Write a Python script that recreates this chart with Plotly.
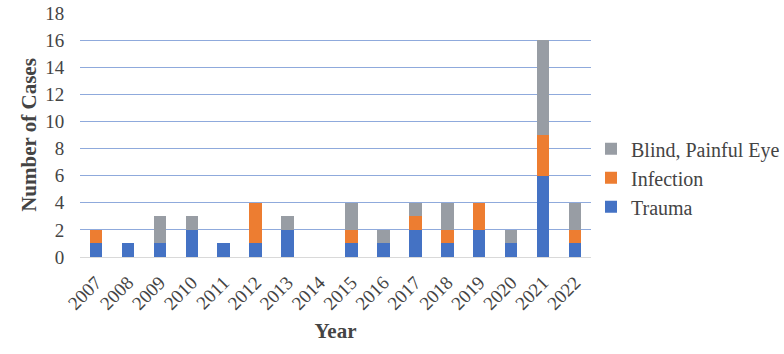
import plotly.graph_objects as go

years = [str(y) for y in range(2007, 2023)]
trauma = [1, 1, 1, 2, 1, 1, 2, 0, 1, 1, 2, 1, 2, 1, 6, 1]
infection = [1, 0, 0, 0, 0, 3, 0, 0, 1, 0, 1, 1, 2, 0, 3, 1]
blind = [0, 0, 2, 1, 0, 0, 1, 0, 2, 1, 1, 2, 0, 1, 7, 2]

FONT = "Liberation Serif"

fig = go.Figure()
fig.add_trace(go.Bar(x=years, y=trauma, name="Trauma", marker=dict(color="#4472C4", line=dict(width=0))))
fig.add_trace(go.Bar(x=years, y=infection, name="Infection", marker=dict(color="#ED7D31", line=dict(width=0))))
fig.add_trace(go.Bar(x=years, y=blind, name="Blind, Painful Eye", marker=dict(color="#989DA4", line=dict(width=0))))

fig.update_layout(
    template="none",
    barmode="stack",
    bargap=0.61,
    width=784, height=354,
    margin=dict(l=80, r=193, t=13, b=97, autoexpand=False),
    font=dict(family=FONT, size=18),
    legend=dict(
        traceorder="reversed",
        x=1.0, xanchor="left", y=0.325, yanchor="middle",
        font=dict(family=FONT, size=20),
    ),
    xaxis=dict(
        type="category",
        tickangle=-45,
        tickfont=dict(family=FONT, size=19),
        showgrid=False,
        showline=True, linecolor="#D9D9D9", linewidth=1,
        ticks="outside", ticklen=6, tickcolor="rgba(255,255,255,0)",
        title=dict(text="<b>Year</b>", font=dict(family=FONT, size=21), standoff=10),
    ),
    yaxis=dict(
        range=[0, 18],
        dtick=2,
        tickfont=dict(family=FONT, size=19),
        showgrid=True, gridcolor="#8FAADC", gridwidth=1,
        zeroline=False, showline=False,
        ticks="outside", ticklen=11, tickcolor="rgba(255,255,255,0)",
        title=dict(text="<b>Number of Cases</b>", font=dict(family=FONT, size=21), standoff=2),
    ),
)

fig.write_html("out.html")
